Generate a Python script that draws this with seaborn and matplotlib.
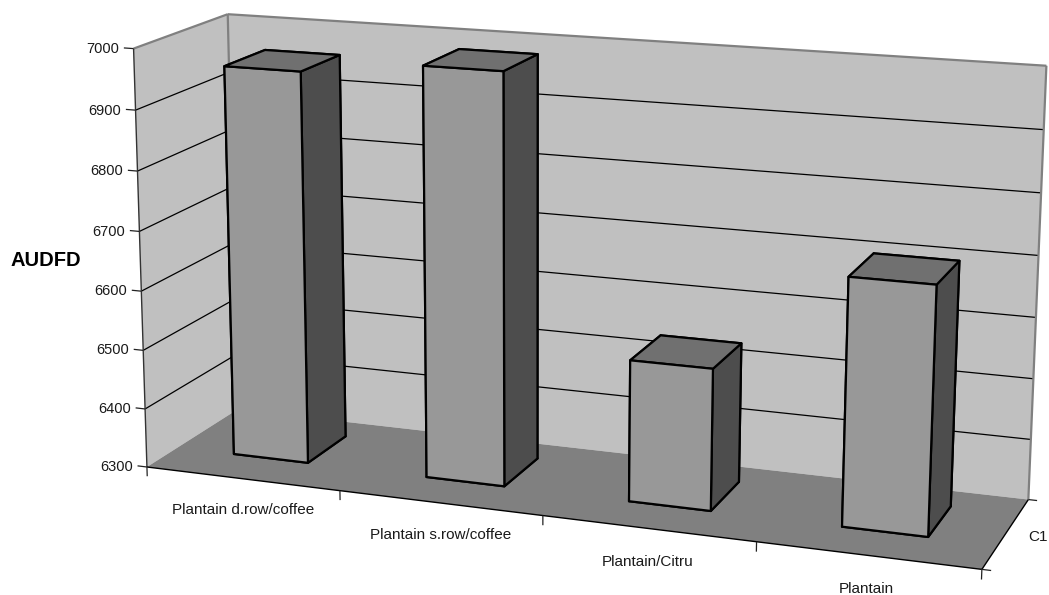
import numpy as np
import seaborn as sns
import matplotlib
matplotlib.use("Agg")
import matplotlib.pyplot as plt
from mpl_toolkits.mplot3d.art3d import Poly3DCollection

# --- Data ---
categories = ["Plantain d.row/coffee", "Plantain s.row/coffee", "Plantain/Citru", "Plantain"]
audfd = [6958, 6981, 6533, 6700]
y_ticks = [6300, 6400, 6500, 6600, 6700, 6800, 6900, 7000]
series_name = "C1"
y_label = "AUDFD"

# --- Settings ---
W, H = 1049, 595
z_min, z_max = y_ticks[0], y_ticks[-1]
n_cat = len(categories)
bar_x, bar_w = 0.30, 0.39
bar_y, bar_d = 0.33, 0.45

sns.set_theme(style="white")
plt.rcParams["font.family"] = ["Liberation Sans", "DejaVu Sans"]
wall_c, floor_c, front_c, top_c, side_c = sns.color_palette(
    ["#c0c0c0", "#808080", "#989898", "#707070", "#4d4d4d"])

# Where the chart box sits in the picture: (x, depth, value) -> pixel
calib = [
    ((0, 0, 7000), (132, 49)), ((0, 1, 7000), (231, 14)),
    ((0, 1, 7000), (231, 14)), ((4, 1, 7000), (1047, 67)),
    ((4, 1, 6300), (1029, 496)),
    ((4, 0, 6300), (982, 570)), ((0, 0, 6300), (149, 466)),
    ((0, 1, 6300), (232, 412)), ((1, 0, 6300), (342, 490)),
    ((2, 0, 6300), (544, 516)), ((3, 0, 6300), (757, 543)),
    ((0, 0, 6900), (134, 110)), ((0, 0, 6400), (147, 408)),
    ((0.30, 0.33, 6958), (222, 66)), ((1.30, 0.33, 6981), (421, 65)),
    ((2.30, 0.33, 6533), (629, 360)), ((3.30, 0.33, 6700), (848, 277)),
    ((0.30, 0.33, 6300), (234, 454)), ((3.30, 0.33, 6300), (841, 528)),
]


def fit_camera(points):
    """Least squares camera matrix, box coordinates to pixels."""
    rows = []
    for (x, y, z), (px, py) in points:
        p = [x / n_cat, y, (z - z_min) / (z_max - z_min), 1]
        rows.append(p + [0, 0, 0, 0] + [-px / 1000 * v for v in p])
        rows.append([0, 0, 0, 0] + p + [-py / 1000 * v for v in p])
    cam = np.linalg.svd(np.array(rows))[2][-1].reshape(3, 4)
    cam = cam / cam[2, 3]
    cam[:2] *= 1000
    return cam


camera = fit_camera(calib)
to_box = np.array([
    [1 / n_cat, 0, 0, 0],
    [0, 1, 0, 0],
    [0, 0, 1 / (z_max - z_min), -z_min / (z_max - z_min)],
    [0, 0, 0, 1],
])
# only used to sort the faces of a bar, far faces first
depth_row = np.array([-0.5, 1, -0.5, 0])

fig = plt.figure(figsize=(W / 100, H / 100), dpi=100)
ax = fig.add_axes([0, 0, 1, 1], projection="3d")
ax.set_axis_off()
ax.computed_zorder = False
ax.set_proj_type("ortho")  # keeps mplot3d from clipping lines, the matrix is ours
ax.set_xlim(0, n_cat)
ax.set_ylim(0, 1)
ax.set_zlim(z_min, z_max)
ax.apply_aspect = lambda position=None: None


def get_proj():
    a = ax.transData.inverted().get_matrix()
    px, py, pw = camera
    disp_x = px
    disp_y = H * pw - py
    m = np.vstack([
        a[0, 0] * disp_x + a[0, 1] * disp_y + a[0, 2] * pw,
        a[1, 0] * disp_x + a[1, 1] * disp_y + a[1, 2] * pw,
        depth_row,
        pw,
    ])
    return m @ to_box


ax.get_proj = get_proj


def line(p0, p1, color="black", lw=0.9, zorder=3):
    ax.plot(*zip(p0, p1), color=color, lw=lw, zorder=zorder, solid_capstyle="butt")


def label(x, y, z, text, **kwargs):
    px, py, pw = camera @ to_box @ np.array([x, y, z, 1.0])
    fig.text(px / pw / W, 1 - py / pw / H, text, va="center_baseline", color="#1a1a1a", **kwargs)


# --- Walls and floor ---
walls = [
    ([(0, 0, z_min), (0, 1, z_min), (0, 1, z_max), (0, 0, z_max)], wall_c),
    ([(0, 1, z_min), (n_cat, 1, z_min), (n_cat, 1, z_max), (0, 1, z_max)], wall_c),
    ([(0, 0, z_min), (n_cat, 0, z_min), (n_cat, 1, z_min), (0, 1, z_min)], floor_c),
]
for verts, c in walls:
    ax.add_collection3d(Poly3DCollection([verts], facecolors=[c], edgecolors="none", zorder=1))

# --- Grid lines ---
for v in y_ticks[1:-1]:
    line((0, 0, v), (0, 1, v), zorder=2)
    line((0, 1, v), (n_cat, 1, v), zorder=2)

# --- Box edges ---
grey = "#808080"
line((0, 0, z_max), (0, 1, z_max), grey, 1.6)
line((0, 1, z_max), (n_cat, 1, z_max), grey, 1.6)
line((n_cat, 1, z_max), (n_cat, 1, z_min), grey, 1.6)
line((0, 1, z_max), (0, 1, z_min), grey, 1.6)
line((0, 0, z_max), (0, 0, z_min), "#333333", 1)
line((0, 0, z_min), (n_cat, 0, z_min), "black", 1)
line((n_cat, 0, z_min), (n_cat, 1, z_min), "black", 1)

# --- Ticks and labels ---
for v in y_ticks:
    line((-0.05, 0, v), (0, 0, v), "#222222", 0.9)
    label(-0.075, 0, v, str(v), ha="right", fontsize=10.5)
for i in range(n_cat + 1):
    line((i, 0, z_min), (i, 0, z_min - 16), "#222222", 0.9)
for i, name in enumerate(categories):
    label(i + 0.5, 0, z_min - 52, name, ha="center", fontsize=11)
for d in (0, 1):
    line((n_cat, d, z_min), (n_cat + 0.04, d, z_min), "#222222", 0.9)
label(n_cat + 0.1, 0.5, z_min, series_name, ha="left", fontsize=11)
fig.text(45.5 / W, 1 - 260 / H, y_label, ha="center", va="center", fontsize=14.5,
         fontweight="bold", color="black")

# --- Bars ---
# face order in bar3d: bottom, top, front, back, left, right
face_colors = [side_c, top_c, front_c, side_c, side_c, side_c]
for i, v in enumerate(audfd):
    ax.bar3d(i + bar_x, bar_y, z_min, bar_w, bar_d, v - z_min, color=face_colors,
             shade=False, edgecolor="black", linewidth=1.6, zorder=5 + i)

fig.savefig("out.png", dpi=100)
